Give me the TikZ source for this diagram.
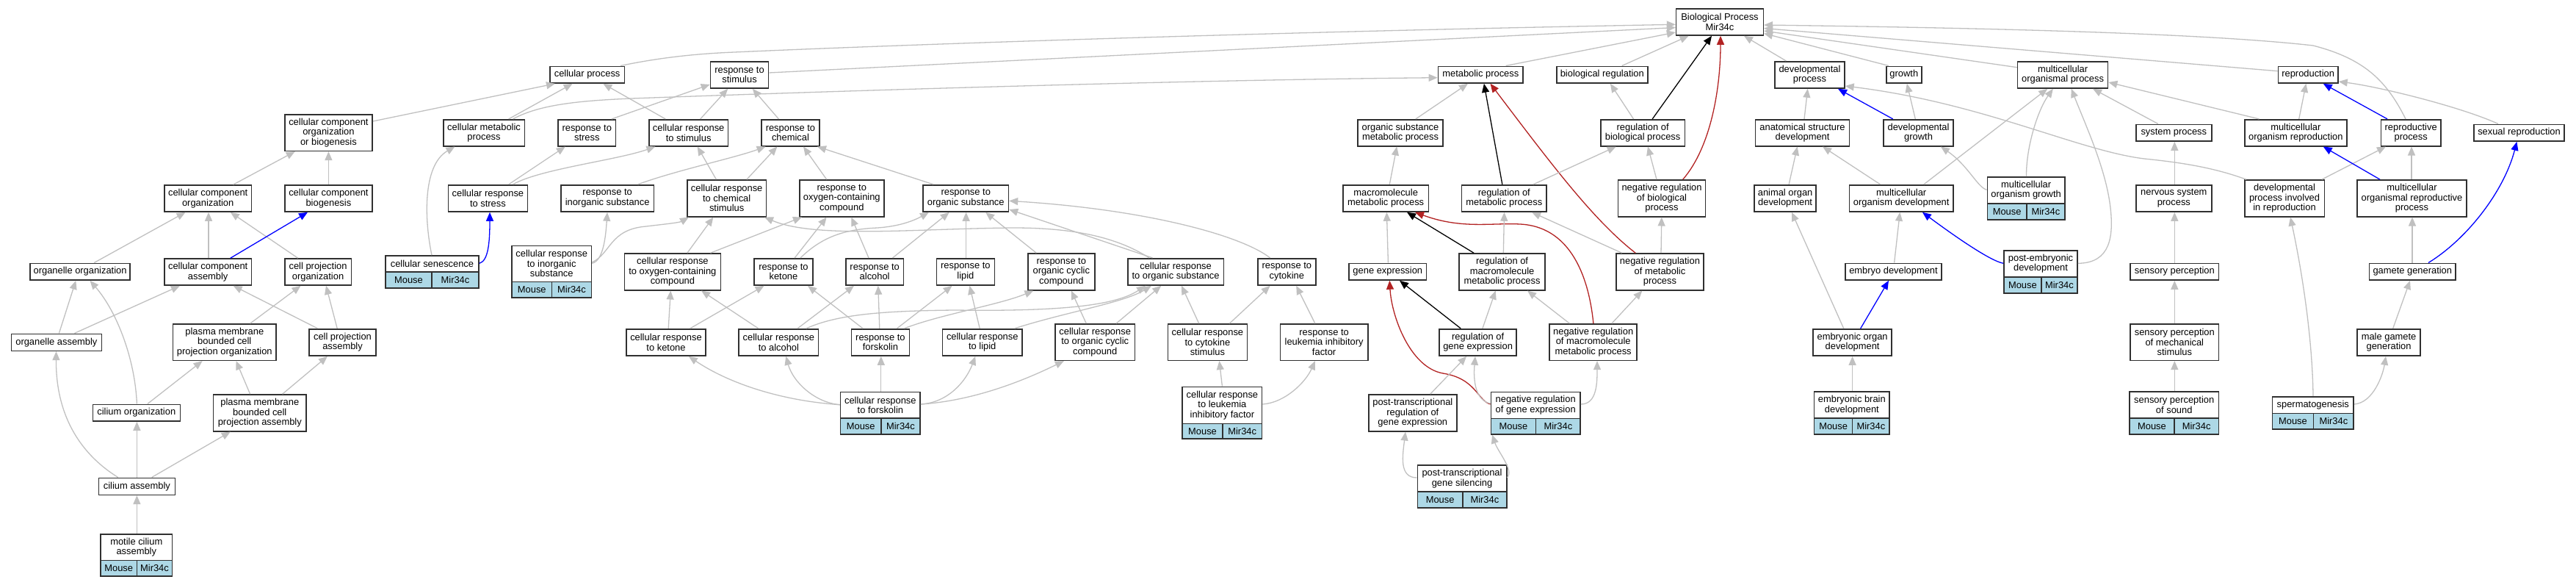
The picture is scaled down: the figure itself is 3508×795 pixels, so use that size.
\documentclass[tikz,border=0pt]{standalone}
\usepackage{fontspec}
\setmainfont{Liberation Sans}
\usetikzlibrary{arrows.meta}
\definecolor{edgegray}{HTML}{C0C0C0}
\definecolor{lblue}{HTML}{ADD8E6}
\definecolor{fbrick}{HTML}{B22222}
\definecolor{bordc}{HTML}{303030}
\newcommand\gvfont{\fontsize{12.9}{13.5}\selectfont}
\newcommand\GOnode[6]{\node[gobox, minimum width={#4-#2}, minimum height={#5-#3}] (#1) at ({(#2+#4)/2},{(#3+#5)/2}) {#6};}
\newcommand\GOgene[8]{%
\node[gobox, minimum width={#4-#2}, minimum height={#5-#3}] (#1) at ({(#2+#4)/2},{(#3+#5)/2}) {#8};
\node[gocell, minimum width={#7-#2}, minimum height={#6-#5}] (#1A) at ({(#2+#7)/2},{(#5+#6)/2}) {Mouse};
\node[gocell, minimum width={#4-#7}, minimum height={#6-#5}] (#1B) at ({(#7+#4)/2},{(#5+#6)/2}) {Mir34c};}
\tikzset{
 gobox/.style={draw=bordc, line width=1.6pt, fill=white, inner sep=0pt, align=center, font=\gvfont},
 gocell/.style={gobox, fill=lblue},
 eg/.style={draw=edgegray, line width=1.3pt, -{Triangle[length=12pt,width=10pt]}},
 eb/.style={eg, draw=blue},
 ek/.style={eg, draw=black},
 er/.style={eg, draw=fbrick},
}
\begin{document}
\begin{tikzpicture}[x=1pt,y=-1pt]
\useasboundingbox (0,0) rectangle (3508,795);
% ---------- nodes
\GOnode{bp}{2282.6}{12}{2401.3}{48}{Biological Process\\Mir34c}
\GOnode{cp}{748.8}{90.3}{850.5}{113}{cellular process}
\GOnode{rs}{967.5}{83.7}{1046.6}{120}{response to\\stimulus}
\GOnode{mp}{1958.4}{90.3}{2074.2}{113}{metabolic process}
\GOnode{br}{2119.7}{90.3}{2243.9}{113}{biological regulation}
\GOnode{dp}{2417}{83.7}{2511.9}{120}{developmental\\process}
\GOnode{gr}{2568.9}{90.3}{2616.7}{113}{growth}
\GOnode{mop}{2747.6}{83.7}{2870.5}{120}{multicellular\\organismal process}
\GOnode{rep}{3102.4}{90.3}{3183.9}{113}{reproduction}
\GOnode{ccob}{387.7}{155.7}{507.1}{205.3}{cellular component\\organization\\or biogenesis}
\GOnode{cmp}{603.7}{162.7}{714.4}{198.7}{cellular metabolic\\process}
\GOnode{rstr}{759.9}{162.7}{838.6}{198.7}{response to\\stress}
\GOnode{crs}{883.7}{162.7}{991.6}{198.7}{cellular response\\to stimulus}
\GOnode{rc}{1037.1}{162.7}{1115.8}{198.7}{response to\\chemical}
\GOnode{osmp}{1848.9}{162.7}{1965.1}{198.7}{organic substance\\metabolic process}
\GOnode{rbp}{2179.8}{162.7}{2294.4}{198.7}{regulation of\\biological process}
\GOnode{asd}{2390.6}{162.7}{2518.4}{198.7}{anatomical structure\\development}
\GOnode{dg}{2565.1}{162.7}{2660}{198.7}{developmental\\growth}
\GOnode{sp}{2908.9}{169.3}{3011.7}{192}{system process}
\GOnode{mor}{3056.7}{162.7}{3195.9}{198.7}{multicellular\\organism reproduction}
\GOnode{rp}{3242.4}{162.7}{3323.9}{198.7}{reproductive\\process}
\GOnode{sr}{3369.2}{169.3}{3491.8}{192}{sexual reproduction}
\GOnode{cco}{223.9}{252}{342.5}{288}{cellular component\\organization}
\GOnode{ccb}{387.7}{252}{507.1}{288}{cellular component\\biogenesis}
\GOnode{crst}{610.4}{251.7}{718.4}{288}{cellular response\\to stress}
\GOnode{ris}{763.9}{251.7}{890.4}{288}{response to\\inorganic substance}
\GOnode{crcs}{935.9}{245}{1043.4}{294.7}{cellular response\\to chemical\\stimulus}
\GOnode{rocc}{1088.9}{245}{1203.7}{294.7}{response to\\oxygen-containing\\compound}
\GOnode{ros}{1257.1}{251.7}{1373.4}{288}{response to\\organic substance}
\GOnode{mmp}{1829.1}{251.7}{1945.3}{288}{macromolecule\\metabolic process}
\GOnode{rmp}{1990.4}{251.7}{2106.2}{288}{regulation of\\metabolic process}
\GOnode{nrbp}{2203.5}{245}{2322.5}{294.7}{negative regulation\\of biological\\process}
\GOnode{aod}{2389}{251.7}{2473.2}{288}{animal organ\\development}
\GOnode{mod}{2518.4}{251.7}{2660}{288}{multicellular\\organism development}
\GOgene{mog}{2706.3}{241}{2811.9}{276.7}{299}{2759.9}{multicellular\\organism growth}
\GOnode{nsp}{2908.9}{251.7}{3011.7}{288}{nervous system\\process}
\GOnode{dpir}{3056.7}{245}{3165.3}{294.7}{developmental\\process involved\\in reproduction}
\GOnode{morp}{3210.2}{245}{3358.8}{294.7}{multicellular\\organismal reproductive\\process}
\GOnode{oo}{41}{358.3}{177.2}{381}{organelle organization}
\GOnode{cca}{223.9}{352}{342.5}{388}{cellular component\\assembly}
\GOnode{cpo}{387.7}{352}{478.4}{388}{cell projection\\organization}
\GOgene{sen}{525}{348}{652}{370}{392}{588}{cellular senescence}
\GOgene{cris}{697}{334.3}{805.4}{383.3}{405}{751.6}{cellular response\\to inorganic\\substance}
\GOnode{crocc}{850.5}{345}{981.3}{394.7}{cellular response\\to oxygen-containing\\compound}
\GOnode{rk}{1027.2}{351.7}{1106.7}{388}{response to\\ketone}
\GOnode{ra}{1151.7}{351.7}{1230.6}{388}{response to\\alcohol}
\GOnode{rl}{1275.3}{351.7}{1354.4}{388}{response to\\lipid}
\GOnode{rorg}{1399.8}{345}{1490.8}{394.7}{response to\\organic cyclic\\compound}
\GOnode{cros}{1535.9}{351.7}{1666.3}{388}{cellular response\\to organic substance}
\GOnode{rcy}{1713}{351.7}{1791.7}{388}{response to\\cytokine}
\GOnode{ge}{1837}{358.3}{1942.6}{381}{gene expression}
\GOnode{rmmp}{1987.2}{345}{2103.9}{394.7}{regulation of\\macromolecule\\metabolic process}
\GOnode{nrmp}{2201.1}{345}{2319.8}{394.7}{negative regulation\\of metabolic\\process}
\GOnode{ed}{2513}{358.3}{2643.9}{381}{embryo development}
\GOgene{ped}{2728.9}{340.7}{2829.1}{376.7}{399}{2779.8}{post-embryonic\\development}
\GOnode{spc}{2901.2}{358.3}{3021.4}{381}{sensory perception}
\GOnode{gg}{3226.5}{358.3}{3344}{381}{gamete generation}
\GOnode{oa}{15.3}{454.3}{138.5}{477.3}{organelle assembly}
\GOnode{pmbcpo}{235.4}{441}{376.2}{490.3}{plasma membrane\\bounded cell\\projection organization}
\GOnode{cpa}{421}{447.7}{512}{484}{cell projection\\assembly}
\GOnode{crk}{852.8}{447.7}{961.2}{484}{cellular response\\to ketone}
\GOnode{cra}{1006.2}{447.7}{1114.6}{484}{cellular response\\to alcohol}
\GOnode{rf}{1159.3}{447.7}{1238.5}{484}{response to\\forskolin}
\GOnode{crl}{1283.6}{447.7}{1391.9}{484}{cellular response\\to lipid}
\GOnode{crorg}{1437}{441}{1545.4}{490.3}{cellular response\\to organic cyclic\\compound}
\GOnode{crcys}{1590.4}{441}{1698.4}{490.3}{cellular response\\to cytokine\\stimulus}
\GOnode{rlif}{1743.5}{441}{1862.7}{490.3}{response to\\leukemia inhibitory\\factor}
\GOnode{rge}{1960}{447.7}{2065.2}{484}{regulation of\\gene expression}
\GOnode{nrmmp}{2110.2}{441}{2229.2}{490.3}{negative regulation\\of macromolecule\\metabolic process}
\GOnode{eod}{2469}{447.7}{2576.2}{484}{embryonic organ\\development}
\GOnode{spms}{2901.2}{441}{3021.4}{490.3}{sensory perception\\of mechanical\\stimulus}
\GOnode{mgg}{3210.2}{447.7}{3295.9}{484}{male gamete\\generation}
\GOnode{cio}{126.3}{550.3}{245.3}{573}{cilium organization}
\GOnode{pmbcpa}{290.5}{537}{417.1}{586.7}{plasma membrane\\bounded cell\\projection assembly}
\GOgene{crf}{1144.6}{533.3}{1253.1}{569}{590.7}{1199.8}{cellular response\\to forskolin}
\GOgene{crlif}{1610.2}{526.3}{1718.6}{576.3}{597}{1664.8}{cellular response\\to leukemia\\inhibitory factor}
\GOnode{ptrge}{1863.9}{537}{1983.7}{586.7}{post-transcriptional\\regulation of\\gene expression}
\GOgene{nrge}{2030.3}{533.3}{2152.1}{569.3}{590.7}{2091.6}{negative regulation\\of gene expression}
\GOgene{ebd}{2470.6}{533}{2573.1}{569}{590.7}{2522.6}{embryonic brain\\development}
\GOgene{sps}{2900}{533}{3021.4}{569}{590.7}{2960.9}{sensory perception\\of sound}
\GOgene{spg}{3094.3}{539.7}{3205.2}{562.3}{584}{3150.5}{spermatogenesis}
\GOnode{cia}{134.3}{650.3}{238.4}{673.3}{cilium assembly}
\GOgene{ptgs}{1930.3}{633}{2051.7}{669}{690.7}{1992}{post-transcriptional\\gene silencing}
\GOgene{mca}{137}{726.7}{234.6}{762.3}{784}{186.4}{motile cilium\\assembly}
% ---------- edges: left branch
\draw[eg] (cco.north -| 317.6,0) -- (ccob.south -| 401.8,0);
\draw[eg] (ccb.north -| 447.4,0) -- (ccob.south -| 447.4,0);
\draw[eg] (ccob.east |- 0,165) -- (cp.south -| 756,0);
\draw[eg] (oo.north -| 128.2,0) -- (cco.south -| 252.6,0);
\draw[eg] (cca.north -| 284,0) -- (cco.south -| 284,0);
\draw[eg] (cpo.north -| 405.7,0) -- (cco.south -| 313.8,0);
\draw[eb] (cca.north -| 313.8,0) -- (ccb.south -| 419,0);
\draw[eg] (oa.north -| 80.4,0) -- (oo.south -| 103.3,0);
\draw[eg] (oa.north -| 101.4,0) -- (cca.south -| 245,0);
\draw[eg] (cio.north -| 186.4,0) .. controls (184,490) and (160,425) .. (oo.south -| 122.5,0);
\draw[eg] (pmbcpo.north -| 340.6,0) -- (cpo.south -| 409.5,0);
\draw[eg] (cpa.north -| 432.5,0) -- (cca.south -| 317.6,0);
\draw[eg] (cpa.north -| 459.2,0) -- (cpo.south -| 444,0);
\draw[eg] (cio.north -| 200.9,0) -- (pmbcpo.south -| 275.6,0);
\draw[eg] (pmbcpa.north -| 340.6,0) -- (pmbcpo.south -| 321.5,0);
\draw[eg] (pmbcpa.north -| 384.6,0) -- (cpa.south -| 445.9,0);
\draw[eg] (cia.north -| 160.7,0) .. controls (105,615) and (76,560) .. (oa.south -| 76.5,0);
\draw[eg] (cia.north -| 186.4,0) -- (cio.south -| 186.4,0);
\draw[eg] (cia.north -| 206.7,0) -- (pmbcpa.south -| 313.8,0);
\draw[eg] (mca.north -| 186.4,0) -- (cia.south -| 186.4,0);
% ---------- response branch
\draw[eg] (sen.north -| 588,0) .. controls (578,300) and (575,225) .. (cmp.south -| 619.5,0);
\draw[eb] (sen.east |- 0,358.3) .. controls (665,355) and (667,330) .. (crst.south -| 667,0);
\draw[eg] (crst.north -| 692.7,0) -- (rstr.south -| 769.8,0);
\draw[eg] (crst.north -| 698.6,0) .. controls (735,230) and (840,218) .. (crs.south -| 892.4,0);
\draw[eg] (cmp.north -| 692.7,0) -- (cp.south -| 779.7,0);
\draw[eg] (cmp.north -| 698.6,0) .. controls (735,142) and (790,137) .. (860,134) .. controls (1300,118) and (1700,108) .. (mp.west |- 0,105.7);
\draw[eg] (crs.north -| 906.2,0) -- (cp.south -| 821.2,0);
\draw[eg] (crs.north -| 953.7,0) -- (rs.south -| 991.2,0);
\draw[eg] (rstr.north -| 833,0) -- (rs.west |- 0,115);
\draw[eg] (rc.north -| 1060.4,0) -- (rs.south -| 1024.8,0);
\draw[eg] (cp.north -| 845,0) .. controls (900,78) and (950,73) .. (1000,71) .. controls (1200,62) and (1700,44) .. (bp.west |- 0,33.3);
\draw[eg] (rs.east |- 0,99) -- (bp.west |- 0,37.5);
\draw[eg] (ris.north -| 868.6,0) .. controls (920,232) and (1000,215) .. (rc.south -| 1042.6,0);
\draw[eg] (crcs.north -| 975.4,0) -- (crs.south -| 949.7,0);
\draw[eg] (crcs.north -| 1016.9,0) -- (rc.south -| 1058.4,0);
\draw[eg] (rocc.north -| 1125.7,0) -- (rc.south -| 1094,0);
\draw[eg] (ros.north -| 1271,0) -- (rc.south -| 1113,0);
\draw[eg] (cris.east |- 0,358.3) .. controls (822,355) and (825,320) .. (ris.south -| 827,0);
\draw[eg] (cris.east |- 0,357) .. controls (832,345) and (830,312) .. (880,308) .. controls (905,305) and (925,303) .. (crcs.south -| 938,0);
\draw[eg] (crocc.north -| 935.9,0) -- (crcs.south -| 971.4,0);
\draw[eg] (crocc.north -| 967.5,0) -- (rocc.south -| 1092,0);
\draw[eg] (rk.north -| 1082.2,0) -- (rocc.south -| 1125.7,0);
\draw[eg] (rk.north -| 1090,0) .. controls (1120,322) and (1150,312) .. (1195,310) .. controls (1225,308) and (1245,300) .. (ros.south -| 1265,0);
\draw[eg] (ra.north -| 1183,0) -- (rocc.south -| 1159.3,0);
\draw[eg] (ra.north -| 1215.6,0) -- (ros.south -| 1292.7,0);
\draw[eg] (rl.north -| 1315.6,0) -- (ros.south -| 1315.6,0);
\draw[eg] (rorg.north -| 1411.3,0) -- (ros.south -| 1342.1,0);
\draw[eg] (cros.north -| 1569.5,0) -- (ros.east |- 0,285);
\draw[eg] (cros.north -| 1565,0) .. controls (1520,322) and (1460,310) .. (1380,310) .. controls (1250,311) and (1110,325) .. (crcs.south -| 1041,0);
\draw[eg] (rcy.north -| 1729.6,0) .. controls (1690,320) and (1560,285) .. (ros.east |- 0,273.3);
\draw[eg] (crk.north -| 910.2,0) -- (crocc.south -| 913.3,0);
\draw[eg] (crk.north -| 939.8,0) -- (rk.south -| 1040.6,0);
\draw[eg] (cra.north -| 1032.7,0) -- (crocc.south -| 955,0);
\draw[eg] (cra.north -| 1086.1,0) -- (ra.south -| 1163,0);
\draw[eg] (cra.north -| 1098,0) .. controls (1140,428) and (1200,423) .. (1300,422) .. controls (1450,424) and (1520,415) .. (cros.south -| 1560,0);
\draw[eg] (rf.north -| 1175,0) -- (rk.south -| 1100,0);
\draw[eg] (rf.north -| 1197.8,0) -- (ra.south -| 1195.8,0);
\draw[eg] (rf.north -| 1221.5,0) -- (rl.south -| 1296.6,0);
\draw[eg] (rf.north -| 1231.4,0) .. controls (1280,428) and (1360,415) .. (rorg.south -| 1407.4,0);
\draw[eg] (crl.north -| 1334.2,0) -- (rl.south -| 1320.4,0);
\draw[eg] (crl.north -| 1381.7,0) .. controls (1450,425) and (1530,412) .. (cros.south -| 1568,0);
\draw[eg] (crorg.north -| 1479.3,0) -- (rorg.south -| 1458.7,0);
\draw[eg] (crorg.north -| 1520,0) -- (cros.south -| 1581.3,0);
\draw[eg] (crcys.north -| 1632.7,0) -- (cros.south -| 1609,0);
\draw[eg] (crcys.north -| 1674.3,0) -- (rcy.south -| 1729.6,0);
\draw[eg] (rlif.north -| 1790.9,0) -- (rcy.south -| 1765.2,0);
\draw[eg] (crlif.north -| 1664.4,0) -- (crcys.south -| 1660.4,0);
\draw[eg] (crlif.east |- 0,550) .. controls (1750,548) and (1778,520) .. (rlif.south -| 1790.9,0);
\draw[eg] (crf.north -| 1199.8,0) -- (rf.south -| 1199.8,0);
\draw[eg] (crf.east |- 0,550) .. controls (1290,548) and (1315,520) .. (crl.south -| 1328.3,0);
\draw[eg] (crf.east |- 0,550) .. controls (1330,545) and (1400,515) .. (crorg.south -| 1448.9,0);
\draw[eg] (crf.west |- 0,550.7) .. controls (1060,545) and (990,520) .. (crk.south -| 937.8,0);
\draw[eg] (crf.west |- 0,550.7) .. controls (1110,548) and (1080,520) .. (cra.south -| 1070.3,0);
% ---------- metabolic / regulation branch
\draw[eg] (mp.north -| 2050.6,0) -- (bp.west |- 0,44);
\draw[eg] (br.north -| 2208.7,0) -- (bp.south -| 2299.6,0);
\draw[ek] (rbp.north -| 2250.2,0) -- (bp.south -| 2331,0);
\draw[er] (nrbp.north -| 2291.7,0) .. controls (2330,200) and (2343,120) .. (bp.south -| 2343,0);
\draw[eg] (osmp.north -| 1927.9,0) -- (mp.south -| 1999,0);
\draw[ek] (rmp.north -| 2045.8,0) -- (mp.south -| 2020.9,0);
\draw[er] (nrmp.north -| 2227.2,0) .. controls (2170,300) and (2110,220) .. (mp.south -| 2029.5,0);
\draw[eg] (rbp.north -| 2224.5,0) -- (br.south -| 2192.9,0);
\draw[eg] (rmp.north -| 2088,0) -- (rbp.south -| 2200.7,0);
\draw[eg] (nrbp.north -| 2256,0) -- (rbp.south -| 2244,0);
\draw[eg] (mmp.north -| 1892.3,0) -- (osmp.south -| 1902.2,0);
\draw[eg] (ge.north -| 1890.4,0) -- (mmp.south -| 1888.4,0);
\draw[ek] (rmmp.north -| 2007,0) -- (mmp.south -| 1916,0);
\draw[er] (nrmmp.north -| 2169.9,0) .. controls (2163,370) and (2135,308) .. (2070,305) .. controls (2030,303) and (1990,312) .. (mmp.south -| 1927,0);
\draw[eg] (rmmp.north -| 2047.3,0) -- (rmp.south -| 2048.5,0);
\draw[eg] (nrmp.north -| 2208.6,0) -- (rmp.south -| 2086,0);
\draw[eg] (nrmp.north -| 2262,0) -- (nrbp.south -| 2262.8,0);
\draw[ek] (rge.north -| 1989.2,0) -- (ge.south -| 1906,0);
\draw[eg] (rge.north -| 2018.9,0) -- (rmmp.south -| 2036.7,0);
\draw[eg] (nrmmp.north -| 2137.5,0) -- (rmmp.south -| 2080,0);
\draw[eg] (nrmmp.north -| 2194.8,0) -- (nrmp.south -| 2236.3,0);
\draw[er] (nrge.west |- 0,550) .. controls (2012,545) and (2010,515) .. (1965,508) .. controls (1920,500) and (1895,430) .. (ge.south -| 1892.3,0);
\draw[eg] (nrge.west |- 0,549) .. controls (2010,545) and (2006,520) .. (rge.south -| 2009,0);
\draw[eg] (nrge.east |- 0,550) .. controls (2175,550) and (2175,520) .. (nrmmp.south -| 2175,0);
\draw[eg] (ptrge.north -| 1947.7,0) -- (rge.south -| 1997.1,0);
\draw[eg] (ptgs.west |- 0,650) .. controls (1905,650) and (1910,620) .. (ptrge.south -| 1914,0);
\draw[eg] (ptgs.east |- 0,650) .. controls (2062,640) and (2040,615) .. (nrgeA.south -| 2032,0);
% ---------- developmental branch
\draw[eg] (dp.north -| 2432.3,0) -- (bp.south -| 2374.9,0);
\draw[eg] (gr.north -| 2572,0) -- (bp.east |- 0,45.5);
\draw[eg] (mop.west |- 0,91.7) -- (bp.east |- 0,42);
\draw[eg] (rep.west |- 0,96.7) -- (bp.east |- 0,38.5);
\draw[eg] (rp.north -| 3276,0) .. controls (3250,110) and (3220,80) .. (3150,62) .. controls (3000,45) and (2700,38) .. (bp.east |- 0,34);
\draw[eg] (asd.north -| 2457,0) -- (dp.south -| 2461.7,0);
\draw[eb] (dg.north -| 2577.7,0) -- (dp.south -| 2503,0);
\draw[eg] (dg.north -| 2608.3,0) -- (gr.south -| 2596.8,0);
\draw[eg] (aod.north -| 2436.1,0) -- (asd.south -| 2447.6,0);
\draw[eg] (mod.north -| 2560.5,0) -- (asd.south -| 2482,0);
\draw[eg] (mod.north -| 2619.8,0) -- (mop.south -| 2788.2,0);
\draw[eg] (mog.west |- 0,258.3) .. controls (2693,255) and (2680,225) .. (dg.south -| 2642.8,0);
\draw[eg] (mog.north -| 2759.5,0) .. controls (2759,200) and (2775,150) .. (mop.south -| 2795.8,0);
\draw[eb] (ped.west |- 0,358.3) .. controls (2710,355) and (2660,320) .. (mod.south -| 2617.9,0);
\draw[eg] (ped.east |- 0,358.3) .. controls (2875,358) and (2878,320) .. (2874,283) .. controls (2868,230) and (2840,170) .. (mop.south -| 2820.7,0);
\draw[eg] (ed.north -| 2579.6,0) -- (mod.south -| 2587.3,0);
\draw[eb] (eod.north -| 2533.7,0) -- (ed.south -| 2572,0);
\draw[eg] (eod.north -| 2510.7,0) -- (aod.south -| 2440,0);
\draw[eg] (ebd.north -| 2522.6,0) -- (eod.south -| 2522.6,0);
% ---------- system / reproduction
\draw[eg] (sp.north -| 2938.8,0) -- (mop.south -| 2850,0);
\draw[eg] (mor.north -| 3076.4,0) -- (mop.east |- 0,112);
\draw[eg] (nsp.north -| 2961.3,0) -- (sp.south -| 2961.3,0);
\draw[eg] (spc.north -| 2961.3,0) -- (nsp.south -| 2961.3,0);
\draw[eg] (spms.north -| 2961.3,0) -- (spc.south -| 2961.3,0);
\draw[eg] (sps.north -| 2961.3,0) -- (spms.south -| 2961.3,0);
\draw[eg] (dpir.north -| 3059,0) .. controls (3020,230) and (2980,222) .. (2920,216) .. controls (2830,205) and (2700,140) .. (dp.east |- 0,117);
\draw[eg] (dpir.north -| 3161.8,0) -- (rp.south -| 3249,0);
\draw[eb] (morp.north -| 3241,0) -- (mor.south -| 3163.7,0);
\draw[eg] (morp.north -| 3284,0) -- (rp.south -| 3284,0);
\draw[eg] (mor.north -| 3130.7,0) -- (rep.south -| 3140.4,0);
\draw[eb] (rp.north -| 3251,0) -- (rep.south -| 3163.7,0);
\draw[eg] (sr.north -| 3402,0) .. controls (3350,145) and (3240,118) .. (rep.east |- 0,111);
\draw[eg] (gg.north -| 3285,0) -- (morp.south -| 3285,0);
\draw[eb] (gg.north -| 3307,0) .. controls (3360,325) and (3410,260) .. (sr.south -| 3427.4,0);
\draw[eg] (mgg.north -| 3258.7,0) -- (gg.south -| 3282,0);
\draw[eg] (spg.east |- 0,550) .. controls (3232,548) and (3245,510) .. (mgg.south -| 3249,0);
\draw[eg] (spg.north -| 3150,0) .. controls (3149,460) and (3135,370) .. (dpir.south -| 3119,0);
\end{tikzpicture}
\end{document}
